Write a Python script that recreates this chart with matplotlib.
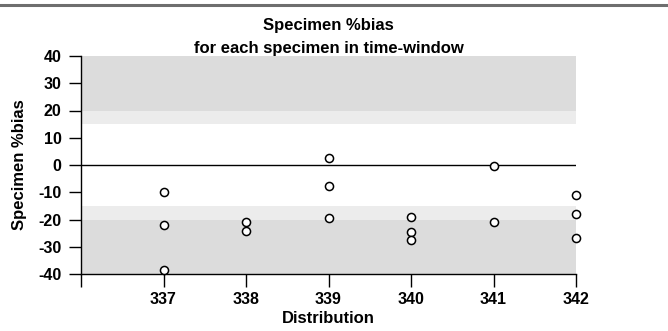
import matplotlib
matplotlib.use("Agg")
import matplotlib.pyplot as plt
from matplotlib.lines import Line2D

# Data
distributions = [337, 337, 337, 338, 338, 339, 339, 339, 340, 340, 340, 341, 341, 342, 342, 342]
pct_bias = [-9.8, -22.1, -38.5, -20.9, -24.2, 2.7, -7.7, -19.3, -19.2, -24.5, -27.5, -0.4, -20.9, -11.1, -18.0, -26.9]
x_ticks = [336, 337, 338, 339, 340, 341, 342]
x_tick_labels = ["", "337", "338", "339", "340", "341", "342"]
y_ticks = [40, 30, 20, 10, 0, -10, -20, -30, -40]
outer_limits = [20, 40]
inner_limits = [15, 20]

plt.rcParams['font.family'] = ['Liberation Sans', 'DejaVu Sans']
plt.rcParams['font.weight'] = 'bold'

fig = plt.figure(figsize=(6.68, 3.31), dpi=100)
ax = fig.add_axes([81/668, 1-274/331, (576-81)/668, (274-56)/331])

# top rule line across figure
fig.add_artist(Line2D([0, 1], [1-5/331, 1-5/331], color='#6e6e6e', lw=2.2, transform=fig.transFigure))

dark = '#dcdcdc'
light = '#ececec'
ax.axhspan(outer_limits[0], outer_limits[1], color=dark, lw=0, zorder=0)
ax.axhspan(inner_limits[0], inner_limits[1], color=light, lw=0, zorder=0)
ax.axhspan(-outer_limits[1], -outer_limits[0], color=dark, lw=0, zorder=0)
ax.axhspan(-inner_limits[1], -inner_limits[0], color=light, lw=0, zorder=0)
ax.axhline(0, color='black', lw=1.0, zorder=1)

ax.scatter(distributions, pct_bias, s=34, facecolor='white', edgecolor='black',
           linewidths=1.1, zorder=3, clip_on=False)

ax.set_xlim(336, 342)
ax.set_ylim(-40, 40)
ax.set_xticks(x_ticks)
ax.set_xticklabels(x_tick_labels)
ax.set_yticks(y_ticks)
ax.set_yticklabels([str(v) for v in y_ticks])
for s in ['top', 'right']:
    ax.spines[s].set_visible(False)
for s in ['left', 'bottom']:
    ax.spines[s].set_linewidth(1.0)
ax.tick_params(axis='both', direction='out', length=9, width=1.0, labelsize=11.5)
ax.tick_params(axis='y', pad=5)
ax.tick_params(axis='x', pad=4)
for lab in ax.get_xticklabels() + ax.get_yticklabels():
    lab.set_fontweight('bold')

ax.set_title("Specimen %bias\nfor each specimen in time-window", fontsize=12,
             fontweight='bold', pad=2, linespacing=1.65)
ax.set_xlabel("Distribution", fontsize=12, fontweight='bold', labelpad=3)
ax.set_ylabel("Specimen %bias", fontsize=12, fontweight='bold', labelpad=8)

fig.savefig("out.png", dpi=100)
